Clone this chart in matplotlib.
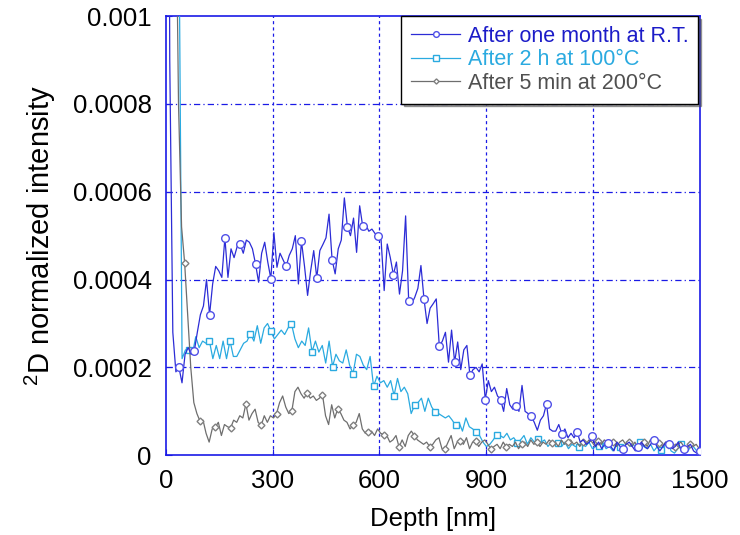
import matplotlib
matplotlib.use("Agg")
import matplotlib.pyplot as plt
import numpy as np

plt.rcParams['font.family'] = ['Liberation Sans', 'DejaVu Sans']
plt.rcParams['mathtext.fontset'] = 'custom'
plt.rcParams['mathtext.rm'] = 'Liberation Sans'
plt.rcParams['mathtext.it'] = 'Liberation Sans'

# depth grids (nm), evenly sampled
depth_rt = 2.6 + 8.6 * np.arange(175)
depth_100 = 7.4 + 9.6 * np.arange(156)
depth_200 = 10.0 + 8.6 * np.arange(174)

# intensities in units of 1e-4
rt_vals = [30, 9, 2.8, 1.9, 2.0, 1.65, 2.3, 2.45, 2.3, 2.37,
           2.8, 3.2, 3.4, 4.0, 3.2, 3.9, 4.3, 4.2, 4.05, 4.95,
           4.05, 4.7, 4.5, 4.75, 4.8, 4.6, 4.9, 4.85, 4.7, 4.36,
           3.94, 4.6, 4.85, 4.4, 4.02, 5.07, 4.28, 4.6, 4.45, 4.3,
           4.55, 4.7, 5.0, 3.9, 4.87, 4.3, 3.64, 4.2, 4.66, 4.04,
           4.66, 4.8, 4.95, 5.49, 4.45, 4.13, 4.7, 4.9, 5.86, 5.2,
           5.0, 5.4, 4.62, 5.68, 5.21, 5.25, 5.1, 5.15, 5.05, 5.0,
           4.9, 3.75, 4.81, 4.5, 4.11, 4.4, 3.67, 4.2, 5.45, 3.52,
           3.45, 3.6, 3.8, 4.32, 3.56, 3.0, 3.35, 3.45, 3.56, 2.48,
           2.6, 2.8, 2.12, 2.85, 2.12, 2.58, 1.95, 2.4, 2.5, 1.82,
           1.95, 2.0, 1.9, 2.08, 1.27, 1.7, 1.45, 1.55, 1.35, 1.27,
           1.0, 1.52, 1.15, 1.05, 1.12, 1.0, 1.59, 1.0, 0.95, 0.89,
           0.75, 0.57, 0.8, 0.9, 1.17, 0.6, 0.55, 0.55, 0.7, 0.49,
           0.6, 0.4, 0.5, 0.4, 0.53, 0.3, 0.35, 0.25, 0.3, 0.43,
           0.2, 0.3, 0.15, 0.25, 0.28, 0.2, 0.1, 0.3, 0.2, 0.15,
           0.25, 0.3, 0.2, 0.1, 0.2, 0.3, 0.2, 0.15, 0.25, 0.35,
           0.2, 0.1, 0.2, 0.3, 0.25, 0.15, 0.2, 0.3, 0.1, 0.15,
           0.2, 0.25, 0.1, 0.05, 0.1]

c100_vals = [40, 30, 22, 13, 2.2, 2.4, 2.4, 2.3, 2.7, 2.45,
             2.6, 2.55, 2.6, 2.2, 2.5, 2.2, 2.6, 2.2, 2.61, 2.25,
             2.25, 2.4, 2.55, 2.6, 2.77, 2.6, 2.95, 2.55, 2.9, 3.0,
             2.82, 2.65, 2.75, 2.85, 2.75, 2.9, 2.99, 2.65, 2.45, 2.6,
             2.5, 2.9, 2.36, 2.6, 2.35, 2.5, 2.1, 2.6, 2.02, 2.3,
             2.15, 2.1, 2.4, 2.05, 1.86, 2.3, 2.25, 2.05, 1.95, 2.25,
             1.57, 1.8, 1.65, 1.7, 1.55, 1.7, 1.36, 1.75, 1.45, 1.55,
             1.4, 0.95, 1.14, 1.2, 1.3, 1.0, 1.3, 1.1, 0.98, 0.95,
             0.9, 0.85, 0.9, 0.8, 0.68, 0.75, 0.55, 0.85, 0.65, 0.6,
             0.53, 0.45, 0.3, 0.2, 0.25, 0.35, 0.47, 0.45, 0.4, 0.5,
             0.35, 0.4, 0.29, 0.35, 0.45, 0.25, 0.4, 0.3, 0.36, 0.3,
             0.35, 0.2, 0.3, 0.25, 0.27, 0.2, 0.3, 0.15, 0.25, 0.2,
             0.18, 0.25, 0.2, 0.3, 0.15, 0.2, 0.22, 0.3, 0.15, 0.2,
             0.1, 0.25, 0.2, 0.15, 0.3, 0.2, 0.25, 0.1, 0.3, 0.2,
             0.15, 0.25, 0.1, 0.2, 0.12, 0.2, 0.3, 0.1, 0.05, 0.15,
             0.25, 0.2, 0.1, 0.25, 0.15, 0.05]

c200_vals = [40, 25, 14, 8, 5.2, 4.38, 3.2, 2.0, 1.2, 0.95,
             0.78, 0.8, 0.5, 0.3, 0.6, 0.64, 0.75, 0.45, 0.7, 0.65,
             0.62, 0.8, 0.75, 0.9, 0.85, 1.17, 0.8, 0.95, 1.05, 0.75,
             0.68, 0.9, 0.75, 0.9, 0.85, 0.95, 1.2, 1.35, 1.1, 0.95,
             1.01, 1.45, 1.55, 1.4, 1.3, 1.42, 1.3, 1.35, 1.25, 1.3,
             1.38, 0.9, 0.7, 1.15, 0.85, 1.06, 0.95, 0.8, 0.75, 0.6,
             0.68, 0.75, 0.95, 0.6, 0.5, 0.52, 0.55, 0.45, 0.6, 0.5,
             0.47, 0.45, 0.3, 0.35, 0.45, 0.19, 0.35, 0.2, 0.45, 0.55,
             0.45, 0.35, 0.3, 0.25, 0.3, 0.2, 0.25, 0.35, 0.4, 0.15,
             0.14, 0.3, 0.45, 0.15, 0.3, 0.33, 0.25, 0.4, 0.15, 0.3,
             0.32, 0.2, 0.3, 0.35, 0.25, 0.14, 0.2, 0.25, 0.15, 0.3,
             0.19, 0.25, 0.2, 0.3, 0.15, 0.25, 0.3, 0.2, 0.35, 0.25,
             0.3, 0.2, 0.3, 0.25, 0.35, 0.28, 0.3, 0.2, 0.35, 0.25,
             0.3, 0.35, 0.25, 0.3, 0.2, 0.3, 0.25, 0.35, 0.3, 0.2,
             0.32, 0.25, 0.35, 0.3, 0.25, 0.3, 0.2, 0.3, 0.35, 0.25,
             0.3, 0.2, 0.3, 0.15, 0.25, 0.3, 0.2, 0.35, 0.25, 0.3,
             0.28, 0.2, 0.3, 0.15, 0.25, 0.2, 0.25, 0.3, 0.2, 0.15,
             0.25, 0.2, 0.25, 0.15]

labels = ["After one month at R.T.", "After 2 h at 100°C", "After 5 min at 200°C"]
xticks = [0, 300, 600, 900, 1200, 1500]
yticks = [0, 0.0002, 0.0004, 0.0006, 0.0008, 0.001]
ytick_labels = ["0", "0.0002", "0.0004", "0.0006", "0.0008", "0.001"]

blue = '#2c2cd6'
cyan = '#2aaae0'
gray = '#6e6e6e'
frame = '#1a1ae6'

fig = plt.figure(figsize=(7.4, 5.35), dpi=100)
ax = fig.add_axes([0.224, 0.149, 0.722, 0.821])

ax.plot(depth_rt, np.array(rt_vals) * 1e-4, color=blue, lw=0.9,
        marker='o', ms=5.5, mfc='white', mec='#5050e8', mew=1.0,
        markevery=(4, 5), label=labels[0], zorder=4)
ax.plot(depth_100, np.array(c100_vals) * 1e-4, color=cyan, lw=0.9,
        marker='s', ms=5, mfc='white', mec=cyan, mew=1.0,
        markevery=(0, 6), label=labels[1], zorder=3)
ax.plot(depth_200, np.array(c200_vals) * 1e-4, color=gray, lw=0.9,
        marker='D', ms=3.5, mfc='white', mec='#808080', mew=1.0,
        markevery=(0, 5), label=labels[2], zorder=3)

ax.set_xlim(0, 1500)
ax.set_ylim(0, 0.001)
ax.set_xticks(xticks)
ax.set_yticks(yticks)
ax.set_yticklabels(ytick_labels)

for y in yticks[1:-1]:
    ax.axhline(y, color=frame, lw=0.9, ls=(0, (5, 2.5, 1, 2.5)), zorder=1)
for x in xticks[1:-1]:
    ax.axvline(x, color=frame, lw=0.9, ls=(0, (2.5, 2.5)), zorder=1)

for s in ax.spines.values():
    s.set_color(frame)
    s.set_linewidth(1.2)
ax.tick_params(direction='in', colors=frame, labelcolor='black',
               labelsize=18.5, length=4, pad=10)

ax.set_xlabel("Depth [nm]", fontsize=18.5, labelpad=10)
ax.set_ylabel("$^{2}$D normalized intensity", fontsize=21, labelpad=11)

leg = ax.legend(loc='upper right', fontsize=15.5, handlelength=2.3,
                handletextpad=0.35, borderpad=0.45, labelspacing=0.12,
                borderaxespad=0.0, fancybox=False, shadow=True,
                framealpha=1, edgecolor='black', markerscale=0.75,
                bbox_to_anchor=(0.997, 1.0))
leg.get_frame().set_linewidth(1.0)
for t, c in zip(leg.get_texts(), ['#1c1cc8', cyan, '#505050']):
    t.set_color(c)

fig.savefig("out.png", dpi=100)
